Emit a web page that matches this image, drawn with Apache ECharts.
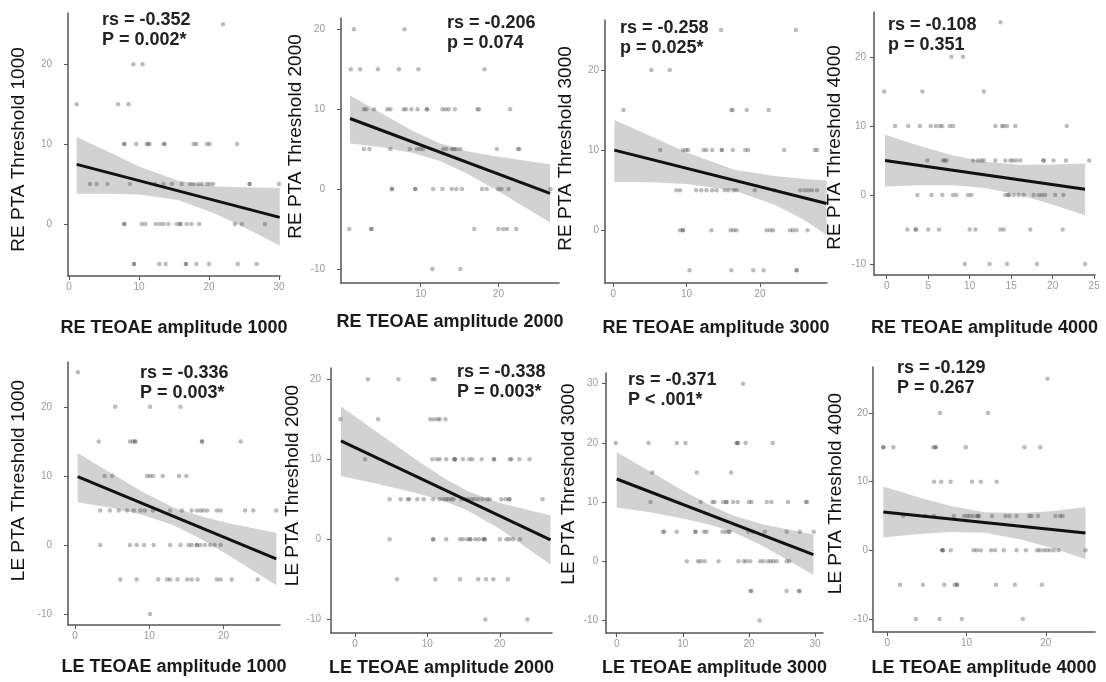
<!DOCTYPE html>
<html>
<head>
<meta charset="utf-8">
<script src="https://cdn.jsdelivr.net/npm/echarts@6/dist/echarts.min.js"></script>
<style>
  html, body { margin: 0; padding: 0; background: #fff; }
  #chart { width: 1106px; height: 682px; }
</style>
</head>
<body>
<div id="chart"></div>
<script>
// scatter points, one row per threshold level: [y, [x, x, ...]]
const re1000Pts = [
  [25, [22.0]],
  [20, [9.2, 10.5]],
  [15, [1.1, 7.0, 8.5]],
  [10, [7.9, 7.9, 9.6, 11.1, 11.3, 11.5, 13.5, 13.7, 17.8, 18.2, 19.7, 20.1, 24.0]],
  [5, [3.0, 3.95, 5.5, 8.7, 12.3, 13.5, 14.7, 16.1, 17.3, 17.8, 18.5, 19.0, 19.7, 20.1, 20.6, 25.8, 25.8, 30.0]],
  [0, [7.9, 7.9, 10.4, 10.9, 12.4, 13.0, 13.5, 14.2, 15.4, 15.9, 15.9, 16.8, 17.5, 18.6, 23.7, 24.7, 28.0]],
  [-5, [9.3, 9.3, 12.9, 13.8, 16.7, 16.7, 18.2, 20.0, 24.1, 26.8]]
]
const re2000Pts = [
  [20, [1.4, 7.9]],
  [15, [1.0, 2.2, 4.5, 7.2, 9.7, 18.2]],
  [10, [2.7, 3.0, 4.0, 5.7, 6.1, 7.8, 8.1, 8.8, 9.6, 10.8, 10.8, 12.8, 13.2, 13.6, 14.4, 17.3, 17.5, 21.5]],
  [5, [2.7, 3.4, 6.1, 8.6, 9.5, 9.9, 10.3, 12.9, 13.3, 14.0, 14.3, 14.6, 15.1, 19.8, 22.5, 22.7]],
  [0, [6.3, 6.3, 9.3, 9.3, 11.6, 12.8, 14.0, 14.6, 15.3, 17.9, 18.5, 20.0, 20.4, 21.3, 26.7]],
  [-5, [0.8, 3.6, 3.7, 16.9, 20.0, 20.6, 21.1, 22.3]],
  [-10, [11.5, 15.1]]
]
const re3000Pts = [
  [25, [14.7, 24.9]],
  [20, [5.2, 7.7]],
  [15, [1.4, 16.1, 16.3, 18.2, 21.2]],
  [10, [6.4, 9.5, 9.9, 10.2, 12.3, 12.7, 13.5, 14.8, 14.8, 16.3, 18.0, 18.4, 23.3, 27.5, 27.8]],
  [5, [8.6, 9.1, 11.3, 12.0, 12.7, 13.5, 14.1, 15.2, 15.7, 16.4, 16.8, 19.3, 22.0, 25.5, 26.1, 26.6, 27.1, 27.8]],
  [0, [9.1, 9.5, 9.5, 13.4, 16.0, 16.4, 16.8, 20.9, 21.4, 21.8, 24.1, 24.5, 25.0, 26.5]],
  [-5, [10.4, 16.1, 19.1, 20.5, 25.0, 25.0]]
]
const re4000Pts = [
  [25, [13.7]],
  [20, [7.8, 9.2]],
  [15, [-0.3, 4.3, 11.7]],
  [10, [1.0, 2.6, 4.0, 5.3, 5.9, 6.4, 6.7, 7.6, 8.0, 13.1, 13.9, 14.1, 14.5, 15.5, 21.7]],
  [5, [4.9, 6.8, 7.0, 7.2, 10.4, 11.0, 11.4, 11.7, 13.1, 14.3, 14.9, 15.2, 15.6, 16.1, 18.9, 18.9, 20.1, 21.6, 24.4]],
  [0, [3.7, 5.4, 6.7, 8.0, 8.4, 9.8, 10.2, 14.3, 14.7, 14.7, 15.3, 15.9, 16.5, 17.7, 18.3, 18.7, 19.1, 20.3, 21.3]],
  [-5, [2.5, 3.5, 3.5, 5.0, 6.3, 10.0, 10.7, 13.7, 14.1, 17.3, 21.2]],
  [-10, [9.4, 12.4, 14.5, 18.1, 23.9]]
]
const le1000Pts = [
  [25, [0.4]],
  [20, [5.4, 10.1, 14.2]],
  [15, [3.2, 7.4, 7.8, 8.1, 8.1, 17.1, 17.1, 22.3]],
  [10, [4.0, 5.0, 9.7, 10.1, 10.5, 11.8, 14.0, 15.0]],
  [5, [3.4, 4.7, 5.9, 7.0, 7.9, 8.8, 9.4, 10.5, 12.8, 14.4, 15.7, 16.4, 16.9, 17.3, 17.8, 19.1, 19.6, 22.9, 24.0, 27.1]],
  [0, [3.4, 7.4, 8.3, 9.3, 10.6, 12.8, 14.2, 15.3, 15.7, 16.4, 16.4, 16.9, 17.5, 18.2, 18.8, 19.6]],
  [-5, [6.1, 8.3, 11.2, 12.4, 12.8, 13.8, 15.1, 15.7, 16.5, 19.1, 19.6, 21.1, 24.6]],
  [-10, [10.1]]
]
const le2000Pts = [
  [20, [1.8, 6.0, 10.7, 11.0]],
  [15, [-2.0, 3.2, 10.4, 10.9, 11.4, 11.7, 12.5]],
  [10, [1.4, 10.7, 11.3, 11.7, 12.6, 13.7, 13.8, 13.8, 14.9, 15.8, 16.2, 17.5, 19.2, 19.2, 21.4, 21.6, 22.7, 24.1]],
  [5, [4.8, 6.3, 7.3, 7.5, 8.6, 9.5, 10.8, 11.7, 12.2, 12.6, 12.9, 13.3, 13.6, 14.7, 15.2, 15.6, 16.1, 16.5, 17.0, 17.6, 18.2, 18.6, 20.2, 20.8, 21.3, 21.3, 25.9]],
  [0, [4.8, 10.8, 10.8, 12.6, 14.5, 14.9, 15.5, 15.9, 15.9, 16.6, 17.1, 17.7, 17.9, 17.9, 20.0, 20.9, 21.3, 21.8, 22.8]],
  [-5, [5.8, 11.1, 14.5, 17.0, 18.1, 19.1, 21.1]],
  [-10, [18.0, 23.8]]
]
const le3000Pts = [
  [30, [19.1]],
  [20, [-0.15, 4.8, 9.1, 10.4, 18.1, 18.3, 18.3, 19.5, 23.6]],
  [15, [5.4, 12.1, 17.3]],
  [10, [5.1, 12.7, 14.5, 14.8, 16.1, 16.6, 16.6, 17.6, 18.3, 20.0, 20.4, 22.7, 23.4, 25.9, 28.6, 28.8]],
  [5, [7.0, 7.2, 9.1, 11.9, 11.9, 13.2, 13.6, 16.0, 16.5, 16.9, 17.1, 19.9, 20.6, 22.4, 25.7, 27.7, 29.8]],
  [0, [10.6, 12.3, 12.7, 13.3, 15.4, 18.4, 19.2, 19.6, 20.2, 21.7, 22.2, 22.9, 23.3, 23.7, 24.2, 25.7, 26.1]],
  [-5, [20.2, 20.4, 25.7, 27.5, 27.7]],
  [-10, [21.6]]
]
const le4000Pts = [
  [25, [20.2]],
  [20, [6.65, 12.7]],
  [15, [-0.5, -0.5, 0.76, 5.8, 6.1, 6.1, 9.9, 17.3, 19.3]],
  [10, [5.9, 6.8, 8.0, 10.7, 11.8, 13.8]],
  [5, [2.0, 4.8, 5.9, 8.4, 9.7, 10.1, 10.4, 10.8, 11.3, 11.5, 11.5, 13.2, 14.9, 15.4, 16.3, 17.9, 18.2, 19.0, 21.2, 21.8, 22.1]],
  [0, [6.9, 7.0, 7.0, 8.0, 10.9, 11.3, 11.8, 13.1, 13.6, 14.7, 16.3, 17.5, 18.9, 19.2, 19.7, 20.1, 20.5, 21.0, 21.6, 25.0]],
  [-5, [1.6, 4.5, 7.2, 8.5, 8.8, 8.8, 13.7, 16.1, 19.5]],
  [-10, [3.6, 6.6, 9.4, 17.1]]
]

// fitted line end points [x, y]
const re1000Fit = [[1.1, 7.46], [30.1, 0.83]]
const re2000Fit = [[0.9, 8.83], [26.65, -0.54]]
const re3000Fit = [[0.14, 10.0], [29.1, 3.33]]
const re4000Fit = [[-0.2, 4.98], [23.9, 0.82]]
const le1000Fit = [[0.36, 9.9], [27.1, -2.03]]
const le2000Fit = [[-1.93, 12.3], [27.0, -0.08]]
const le3000Fit = [[0, 13.9], [29.75, 1.13]]
const le4000Fit = [[-0.5, 5.58], [25.0, 2.52]]

// confidence band [x, lower, upper]
const re1000Band = [[1.1, 3.8, 10.9], [6, 3.8, 8.9], [10, 3.7, 7.2], [15.6, 3.0, 5.4], [21, 1.25, 4.7], [25, -0.4, 4.6], [30.1, -2.7, 4.5]]
const re2000Band = [[0.9, 5.7, 11.7], [5, 5.24, 9.44], [9, 4.51, 7.25], [12.4, 3.54, 5.74], [16, 1.92, 4.74], [20, -0.28, 4.04], [26.65, -4.19, 3.11]]
const re3000Band = [[0.14, 6.0, 13.75], [5, 5.98, 11.78], [10, 5.77, 9.69], [16.5, 4.94, 7.54], [22, 3.18, 6.76], [26, 1.3, 6.4], [29.1, -0.6, 6.2]]
const re4000Band = [[-0.2, 1.23, 8.73], [4, 1.41, 7.09], [8, 1.4, 5.72], [11.85, 1.0, 4.8], [16, -0.02, 4.38], [20, -1.4, 4.39], [23.9, -2.93, 4.57]]
const le1000Band = [[0.36, 6.2, 13.3], [5, 5.35, 10.31], [9, 4.36, 7.74], [13.2, 2.87, 5.47], [17, 0.85, 4.11], [21, -1.7, 3.08], [27.1, -5.83, 1.77]]
const le2000Band = [[-1.93, 7.9, 16.6], [3, 6.93, 13.45], [8, 5.87, 10.23], [12, 4.87, 7.81], [15.5, 3.64, 6.04], [20, 1.29, 4.55], [27, -3.13, 2.97]]
const le3000Band = [[0, 9.1, 18.4], [5, 8.3, 15.22], [10, 7.25, 11.97], [14, 6.24, 9.56], [17.5, 4.99, 7.79], [22, 2.66, 6.26], [29.75, -2.26, 4.54]]
const le4000Band = [[-0.5, 1.88, 9.28], [4, 2.38, 7.7], [8, 2.68, 6.44], [12.3, 2.54, 5.54], [17, 1.53, 5.43], [21, 0.26, 5.74], [25, -1.28, 6.32]]

// stats text
const re1000Stat = ['rs = -0.352', 'P = 0.002*']
const re2000Stat = ['rs = -0.206', 'p = 0.074']
const re3000Stat = ['rs = -0.258', 'p = 0.025*']
const re4000Stat = ['rs = -0.108', 'p = 0.351']
const le1000Stat = ['rs = -0.336', 'P = 0.003*']
const le2000Stat = ['rs = -0.338', 'P = 0.003*']
const le3000Stat = ['rs = -0.371', 'P < .001*']
const le4000Stat = ['rs = -0.129', 'P = 0.267']

// tick labels
const re1000XTicks = [0, 10, 20, 30], re1000YTicks = [0, 10, 20]
const re2000XTicks = [10, 20], re2000YTicks = [-10, 0, 10, 20]
const re3000XTicks = [0, 10, 20], re3000YTicks = [0, 10, 20]
const re4000XTicks = [0, 5, 10, 15, 20, 25], re4000YTicks = [-10, 0, 10, 20]
const le1000XTicks = [0, 10, 20], le1000YTicks = [-10, 0, 10, 20]
const le2000XTicks = [0, 10, 20], le2000YTicks = [-10, 0, 10, 20]
const le3000XTicks = [0, 10, 20, 30], le3000YTicks = [-10, 0, 10, 20, 30]
const le4000XTicks = [0, 10, 20], le4000YTicks = [-10, 0, 10, 20]

// layout of each panel (yShift moves the y title up, in px)
const panels = [
  { pts: re1000Pts, fit: re1000Fit, band: re1000Band, stat: re1000Stat, xt: re1000XTicks, yt: re1000YTicks,
    xName: 'RE TEOAE amplitude 1000', yName: 'RE PTA Threshold 1000',
    grid: [68, 13, 212, 263], x: [-0.14, 30.14], y: [-6.5, 26.4], xGap: 43, yGap: 40, yShift: -5, yMargin: 16, text: [102, 10] },
  { pts: re2000Pts, fit: re2000Fit, band: re2000Band, stat: re2000Stat, xt: re2000XTicks, yt: re2000YTicks,
    xName: 'RE TEOAE amplitude 2000', yName: 'RE PTA Threshold 2000',
    grid: [341, 18, 218, 265], x: [-0.26, 27.8], y: [-11.75, 21.4], xGap: 30, yGap: 36, yShift: 14, yMargin: 16, text: [447, 13] },
  { pts: re3000Pts, fit: re3000Fit, band: re3000Band, stat: re3000Stat, xt: re3000XTicks, yt: re3000YTicks,
    xName: 'RE TEOAE amplitude 3000', yName: 'RE PTA Threshold 3000',
    grid: [605, 20, 222, 263], x: [-1.13, 29.15], y: [-6.6, 26.25], xGap: 36, yGap: 30, yShift: 3, yMargin: 6, text: [620, 18] },
  { pts: re4000Pts, fit: re4000Fit, band: re4000Band, stat: re4000Stat, xt: re4000XTicks, yt: re4000YTicks,
    xName: 'RE TEOAE amplitude 4000', yName: 'RE PTA Threshold 4000',
    grid: [874, 12, 221, 263], x: [-1.53, 25.1], y: [-11.6, 26.5], xGap: 44, yGap: 30, yShift: -4, yMargin: 8, text: [888, 15] },
  { pts: le1000Pts, fit: le1000Fit, band: le1000Band, stat: le1000Stat, xt: le1000XTicks, yt: le1000YTicks,
    xName: 'LE TEOAE amplitude 1000', yName: 'LE PTA Threshold 1000',
    grid: [68, 362, 212, 263], x: [-0.94, 27.6], y: [-11.6, 26.5], xGap: 33, yGap: 40, yShift: 13, yMargin: 16, text: [140, 363] },
  { pts: le2000Pts, fit: le2000Fit, band: le2000Band, stat: le2000Stat, xt: le2000XTicks, yt: le2000YTicks,
    xName: 'LE TEOAE amplitude 2000', yName: 'LE PTA Threshold 2000',
    grid: [331, 368, 221, 265], x: [-3.3, 27.2], y: [-11.7, 21.4], xGap: 26, yGap: 28, yShift: 15, yMargin: 10, text: [457, 362] },
  { pts: le3000Pts, fit: le3000Fit, band: le3000Band, stat: le3000Stat, xt: le3000XTicks, yt: le3000YTicks,
    xName: 'LE TEOAE amplitude 3000', yName: 'LE PTA Threshold 3000',
    grid: [606, 373, 217, 260], x: [-1.62, 31.2], y: [-12.1, 31.8], xGap: 26, yGap: 28, yShift: 19, yMargin: 8, text: [628, 370] },
  { pts: le4000Pts, fit: le4000Fit, band: le4000Band, stat: le4000Stat, xt: le4000XTicks, yt: le4000YTicks,
    xName: 'LE TEOAE amplitude 4000', yName: 'LE PTA Threshold 4000',
    grid: [873, 367, 222, 265], x: [-1.8, 26.2], y: [-11.9, 26.7], xGap: 27, yGap: 28, yShift: 6, yMargin: 5, text: [897, 358] }
]

const FONT = '"Liberation Sans", Arial, sans-serif'
const axisCol = '#555'

function expand (rows) {
  return rows.flatMap(([y, xs]) => xs.map(x => [x, y]))
}

const option = {
  backgroundColor: '#fff',
  animation: false,
  grid: [], xAxis: [], yAxis: [], series: [], graphic: []
}

panels.forEach((p, i) => {
  option.grid.push({ left: p.grid[0], top: p.grid[1], width: p.grid[2], height: p.grid[3] })
  const axisLine = { show: true, onZero: false, lineStyle: { color: axisCol, width: 1.5 } }
  // padding on one side of the rotated title slides it along the axis
  const yPad = p.yShift >= 0 ? [0, 0, 0, 2 * p.yShift] : [0, -2 * p.yShift, 0, 0]
  option.xAxis.push({
    gridIndex: i, type: 'value', min: p.x[0], max: p.x[1],
    name: p.xName, nameLocation: 'middle', nameGap: p.xGap,
    nameTextStyle: { fontSize: 18, fontWeight: 'bold', color: '#1a1a1a', fontFamily: FONT },
    axisLine: axisLine, splitLine: { show: false },
    axisTick: { show: true, customValues: p.xt, length: 4, lineStyle: { color: axisCol } },
    axisLabel: { customValues: p.xt, color: '#9a9a9a', fontSize: 10, margin: 6, fontFamily: FONT }
  })
  option.yAxis.push({
    gridIndex: i, type: 'value', min: p.y[0], max: p.y[1],
    name: p.yName, nameLocation: 'middle', nameGap: p.yGap, nameRotate: 90,
    nameTextStyle: { fontSize: 19, color: '#111', fontFamily: FONT, padding: yPad },
    axisLine: axisLine, splitLine: { show: false },
    axisTick: { show: true, customValues: p.yt, length: 4, lineStyle: { color: axisCol } },
    axisLabel: { customValues: p.yt, color: '#9a9a9a', fontSize: 10, margin: p.yMargin, fontFamily: FONT }
  })
  // confidence band
  const band = p.band
  option.series.push({
    type: 'custom', xAxisIndex: i, yAxisIndex: i, silent: true,
    data: [[band[0][0], band[0][1]]],
    renderItem: (params, api) => {
      const upper = band.map(b => api.coord([b[0], b[2]]))
      const lower = band.slice().reverse().map(b => api.coord([b[0], b[1]]))
      return { type: 'polygon', shape: { points: upper.concat(lower) }, style: { fill: '#d2d2d2' } }
    }
  })
  option.series.push({
    type: 'scatter', xAxisIndex: i, yAxisIndex: i,
    data: expand(p.pts), symbolSize: 4.5,
    itemStyle: { color: 'rgba(70,70,70,0.45)' }
  })
  option.series.push({
    type: 'line', xAxisIndex: i, yAxisIndex: i,
    data: p.fit, symbol: 'none',
    lineStyle: { color: '#111', width: 3 }
  })
  option.graphic.push({
    type: 'text', left: p.text[0], top: p.text[1],
    style: { text: p.stat.join('\n'), font: 'bold 18px ' + FONT, fill: '#222', lineHeight: 20 }
  })
})

const myChart = echarts.init(document.getElementById('chart'))
myChart.setOption(option)
</script>
</body>
</html>
